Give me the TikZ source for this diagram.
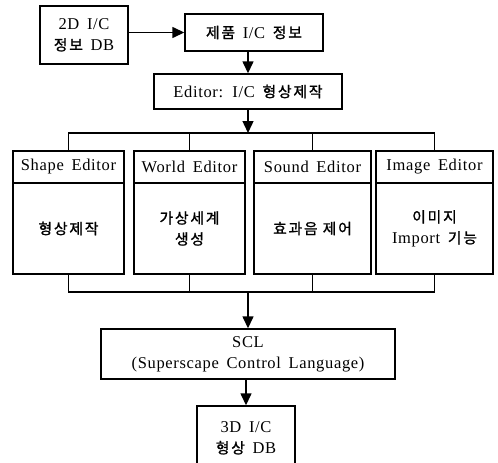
\documentclass[tikz,border=0pt]{standalone}
\usepackage{fontspec}
\setmainfont{Liberation Serif}[LetterSpace=4, WordSpace=1.6]
\newfontfamily\krfont{Noto Sans CJK KR}[Scale=0.9, LetterSpace=12, FakeBold=1.2]
\newcommand{\kr}[1]{{\krfont #1}}
\usetikzlibrary{positioning,arrows.meta,calc}

\begin{document}
\begin{tikzpicture}[x=1pt,y=-1pt,
  every node/.style={font=\fontsize{16.5}{21}\selectfont},
  box/.style={draw=black, line width=1.4pt, align=center, inner sep=2pt},
  arr/.style={-{Triangle[length=12pt,width=11pt]}, line width=1.4pt},
  link/.style={line width=1.4pt},
]
\useasboundingbox (0,0) rectangle (498,463);
% top row
\node[box, minimum width=88pt,  minimum height=58pt] (db2d)   at (84,35)    {2D I/C\\\kr{정보} DB};
\node[box, minimum width=138pt, minimum height=37pt] (info)   at (254,32.5) {\kr{제품} I/C \kr{정보}};
\node[box, minimum width=188pt, minimum height=35pt] (editor) at (248,91.5) {Editor: I/C \kr{형상제작}};
% editors
\node[box, minimum width=111pt, minimum height=32pt] (h_shape) at (68.5,167)  {Shape Editor};
\node[box, minimum width=111pt, minimum height=91pt] (b_shape) at (68.5,228.5) {\kr{형상제작}};
\node[box, minimum width=111pt, minimum height=32pt] (h_world) at (189.5,167)  {World Editor};
\node[box, minimum width=111pt, minimum height=91pt] (b_world) at (189.5,228.5) {\kr{가상세계}\\\kr{생성}};
\node[box, minimum width=117pt, minimum height=32pt] (h_sound) at (312.5,167)  {Sound Editor};
\node[box, minimum width=117pt, minimum height=91pt] (b_sound) at (312.5,228.5) {\kr{효과음 제어}};
\node[box, minimum width=117pt, minimum height=32pt] (h_image) at (434.5,167)  {Image Editor};
\node[box, minimum width=117pt, minimum height=91pt] (b_image) at (434.5,228.5) {\kr{이미지}\\Import \kr{기능}};
% bottom
\node[box, minimum width=294pt, minimum height=50pt] (scl)  at (248,354) {SCL\\(Superscape Control Language)};
\node[box, minimum width=98pt,  minimum height=64pt] (db3d) at (246,438) {3D I/C\\\kr{형상} DB};
\coordinate (bus1) at (248,133);
\coordinate (bus2) at (248,292);
\draw[arr] (db2d.east |- info) -- (info.west);
\draw[arr] (editor.north |- info.south) -- (editor.north);
\draw[arr] (editor.south) -- (bus1);
\draw[link] (h_shape.north) |- (bus1) -| (h_image.north);
\draw[link] (h_world.north) -- (h_world.north |- bus1);
\draw[link] (h_sound.north) -- (h_sound.north |- bus1);
\draw[link] (b_shape.south) |- (bus2) -| (b_image.south);
\draw[link] (b_world.south) -- (b_world.south |- bus2);
\draw[link] (b_sound.south) -- (b_sound.south |- bus2);
\draw[arr] (bus2) -- (scl.north);
\draw[arr] (scl.south -| db3d.north) -- (db3d.north);
\end{tikzpicture}
\end{document}
